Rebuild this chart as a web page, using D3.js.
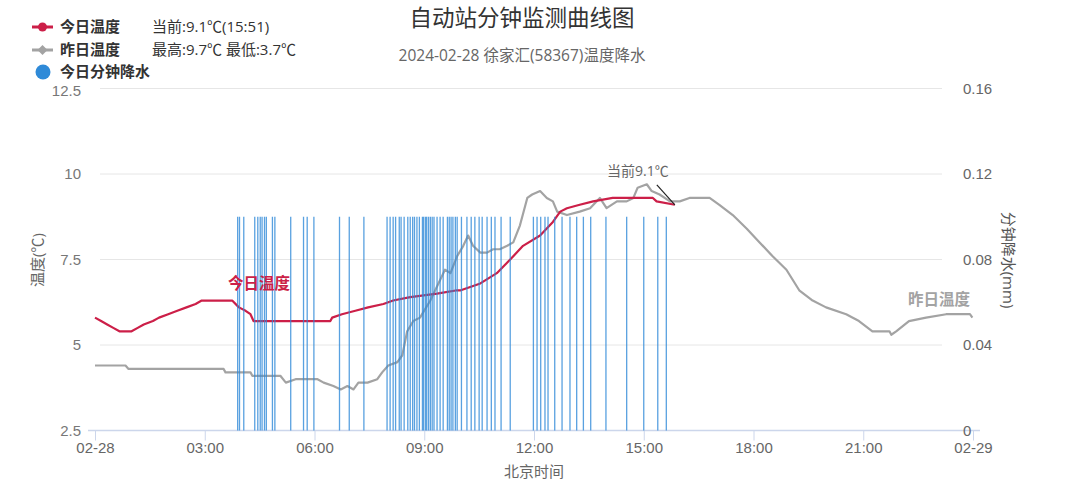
<!DOCTYPE html>
<html>
<head>
<meta charset="utf-8">
<script src="https://cdn.jsdelivr.net/npm/d3@7"></script>
<style>
  body { margin: 0; background: #fff; }
  svg { font-family: "Open Sans", "Noto Sans CJK SC", "Noto Sans", sans-serif; }
</style>
</head>
<body>
<svg id="chart" width="1080" height="500"></svg>
<script>
// today's temperature (1-min data, read at the turning points)
var todayTimes = ["00:00", "00:10", "00:20", "00:30", "00:40", "01:00", "01:10", "01:20",
  "01:35", "01:45", "02:00", "02:15", "02:30", "02:45", "02:55", "03:45", "03:56", "04:07",
  "04:15", "04:20", "06:26", "06:29", "06:45", "07:07", "07:28", "07:53", "08:09", "08:37",
  "09:21", "09:54", "10:00", "10:32", "10:59", "11:21", "11:42", "12:10", "12:31", "12:43",
  "12:54", "13:15", "13:37", "14:09", "15:15", "15:21", "15:51"];
var todayTemps = [5.8, 5.7, 5.6, 5.5, 5.4, 5.4, 5.5, 5.6,
  5.7, 5.8, 5.9, 6.0, 6.1, 6.2, 6.3, 6.3, 6.1, 6.0,
  5.9, 5.7, 5.7, 5.8, 5.9, 6.0, 6.1, 6.2, 6.3, 6.4,
  6.5, 6.6, 6.6, 6.8, 7.1, 7.5, 7.9, 8.2, 8.6, 8.9,
  9.0, 9.1, 9.2, 9.3, 9.3, 9.2, 9.1];

// yesterday's temperature
var yesterdayTimes = ["00:00", "00:50", "00:55", "03:31", "03:34", "04:15", "04:18", "05:04",
  "05:13", "05:29", "06:05", "06:15", "06:31", "06:43", "06:54", "07:04", "07:12", "07:27",
  "07:43", "07:51", "08:01", "08:16", "08:24", "08:32", "08:42", "08:53", "09:10", "09:26",
  "09:34", "09:43", "09:54", "10:04", "10:12", "10:20", "10:32", "10:43", "10:53", "11:04",
  "11:16", "11:26", "11:37", "11:49", "11:57", "12:10", "12:21", "12:31", "12:38", "12:54",
  "13:15", "13:32", "13:48", "13:59", "14:16", "14:32", "14:43", "14:50", "15:05", "15:13",
  "15:26", "15:43", "15:59", "16:15", "16:48", "17:04", "17:26", "17:49", "18:10", "18:31",
  "18:54", "19:15", "19:37", "19:59", "20:32", "20:53", "21:15", "21:43", "21:46", "21:54",
  "22:15", "22:43", "23:16", "23:55", "23:59"];
var yesterdayTemps = [4.4, 4.4, 4.3, 4.3, 4.2, 4.2, 4.1, 4.1,
  3.9, 4.0, 4.0, 3.9, 3.8, 3.7, 3.8, 3.7, 3.9, 3.9,
  4.0, 4.2, 4.4, 4.5, 4.7, 5.4, 5.7, 5.8, 6.3, 6.9,
  7.2, 7.1, 7.6, 7.9, 8.2, 7.9, 7.7, 7.7, 7.8, 7.8,
  7.9, 8.0, 8.5, 9.3, 9.4, 9.5, 9.3, 9.2, 8.9, 8.8,
  8.9, 9.0, 9.3, 9.0, 9.2, 9.2, 9.3, 9.6, 9.7, 9.5,
  9.4, 9.2, 9.2, 9.3, 9.3, 9.1, 8.8, 8.4, 8.0, 7.6,
  7.2, 6.6, 6.3, 6.1, 5.9, 5.7, 5.4, 5.4, 5.3, 5.4,
  5.7, 5.8, 5.9, 5.9, 5.8];

// minutes with rain today (each one tip of the gauge)
var rainTimes = ["03:54", "03:57", "04:04", "04:22", "04:27", "04:31", "04:34", "04:38",
  "04:41", "04:51", "04:55", "05:21", "05:42", "05:48", "05:59", "06:41", "06:57", "07:21",
  "07:59", "08:04", "08:09", "08:13", "08:19", "08:22", "08:27", "08:33", "08:37", "08:41",
  "08:44", "08:48", "08:52", "08:57", "08:59", "09:02", "09:04", "09:07", "09:10", "09:13",
  "09:16", "09:21", "09:26", "09:31", "09:38", "09:41", "09:44", "09:47", "09:51", "09:54",
  "10:01", "10:10", "10:17", "10:23", "10:30", "10:35", "10:43", "10:50", "10:56", "11:06",
  "11:21", "11:59", "12:05", "12:11", "12:18", "12:23", "12:34", "12:46", "12:59", "13:10",
  "13:21", "13:33", "13:58", "14:32", "15:00", "15:23", "15:37"];
var rainValues = rainTimes.map(function() { return 0.1; });

var tempTicks = [2.5, 5, 7.5, 10, 12.5];
var rainTicks = [0, 0.04, 0.08, 0.12, 0.16];

var svg = d3.select("#chart");
var day = "2024-02-28 ";
var parse = d3.timeParse("%Y-%m-%d %H:%M");

var x = d3.scaleTime()
  .domain([parse(day + "00:00"), parse("2024-02-29 00:00")])
  .range([95, 973]);
var yT = d3.scaleLinear().domain([2.5, 12.5]).range([430.5, 88.5]);
var yR = d3.scaleLinear().domain([0, 0.16]).range([430.5, 88.5]);

function pairs(times, vals) {
  return times.map(function(t, i) { return { t: parse(day + t), v: vals[i] }; });
}
var today = pairs(todayTimes, todayTemps);
var yesterday = pairs(yesterdayTimes, yesterdayTemps);
var rain = pairs(rainTimes, rainValues);

// grid lines
svg.append("g").selectAll("line")
  .data(tempTicks.slice(1))
  .enter().append("line")
  .attr("x1", 100).attr("x2", 942)
  .attr("y1", function(d) { return yT(d); })
  .attr("y2", function(d) { return yT(d); })
  .attr("stroke", "#e6e6e6").attr("stroke-width", 1);

// x axis
var fmt = function(d) {
  return d.getHours() === 0 ? d3.timeFormat("%m-%d")(d) : d3.timeFormat("%H:%M")(d);
};
var xAxis = svg.append("g")
  .attr("transform", "translate(0," + yT(2.5) + ")")
  .call(d3.axisBottom(x).ticks(d3.timeHour.every(3)).tickFormat(fmt)
    .tickSize(10).tickSizeOuter(0).tickPadding(2));
xAxis.select(".domain").attr("d", "M88,0H980").attr("stroke", "#ccd6eb").attr("stroke-width", 1.5);
xAxis.selectAll(".tick line").attr("stroke", "#ccd6eb");
xAxis.selectAll("text").attr("font-size", 15).attr("fill", "#666");

// left axis
var yAxis = svg.append("g")
  .attr("transform", "translate(84,0)")
  .call(d3.axisLeft(yT).tickValues(tempTicks).tickSize(0).tickFormat(d3.format("")));
yAxis.select(".domain").remove();
yAxis.selectAll("text").attr("font-size", 15).attr("fill", "#777");
yAxis.selectAll("text").filter(function(d) { return d === 12.5; }).attr("dy", "0.45em");

// right axis
var rAxis = svg.append("g")
  .attr("transform", "translate(960,0)")
  .call(d3.axisRight(yR).tickValues(rainTicks).tickSize(0).tickFormat(d3.format("")));
rAxis.select(".domain").remove();
rAxis.selectAll("text").attr("font-size", 15).attr("fill", "#666");

// lines
var line = d3.line()
  .x(function(d) { return x(d.t); })
  .y(function(d) { return yT(d.v); });

svg.append("path").datum(yesterday)
  .attr("d", line).attr("fill", "none")
  .attr("stroke", "#a3a3a3").attr("stroke-width", 2.2).attr("stroke-linejoin", "round");

svg.append("path").datum(today)
  .attr("d", line).attr("fill", "none")
  .attr("stroke", "#cc1f48").attr("stroke-width", 2.2).attr("stroke-linejoin", "round");

// rain bars on top
svg.append("g").selectAll("rect")
  .data(rain)
  .enter().append("rect")
  .attr("x", function(d) { return x(d.t) - 0.65; })
  .attr("width", 1.3)
  .attr("y", function(d) { return yR(d.v); })
  .attr("height", function(d) { return yR(0) - yR(d.v); })
  .attr("fill", "#2f8ad8").attr("opacity", 0.8);

// current value marker
var last = today[today.length - 1];
svg.append("line")
  .attr("x1", x(last.t) - 18).attr("y1", yT(last.v) - 20)
  .attr("x2", x(last.t)).attr("y2", yT(last.v))
  .attr("stroke", "#222").attr("stroke-width", 1.2);
svg.append("text")
  .attr("x", x(last.t) - 37).attr("y", yT(last.v) - 29)
  .attr("text-anchor", "middle").attr("font-size", 14).attr("fill", "#666")
  .text("当前" + last.v + "℃");

// series labels in the plot
svg.append("text").attr("x", 228).attr("y", 289)
  .attr("font-size", 15.5).attr("font-weight", "bold").attr("fill", "#cc1f48").text("今日温度");
svg.append("text").attr("x", 908).attr("y", 305)
  .attr("font-size", 15.5).attr("font-weight", "bold").attr("fill", "#a3a3a3").text("昨日温度");

// titles
svg.append("text").attr("x", 522).attr("y", 26).attr("text-anchor", "middle")
  .attr("font-size", 22.5).attr("fill", "#333").text("自动站分钟监测曲线图");
svg.append("text").attr("x", 522).attr("y", 61).attr("text-anchor", "middle")
  .attr("font-size", 15.5).attr("fill", "#666").text("2024-02-28 徐家汇(58367)温度降水");

// axis titles
svg.append("text").attr("transform", "translate(43,260) rotate(-90)")
  .attr("text-anchor", "middle").attr("font-size", 15).attr("fill", "#666").text("温度(℃)");
svg.append("text").attr("transform", "translate(1003,260) rotate(90)")
  .attr("text-anchor", "middle").attr("font-size", 15).attr("fill", "#555").text("分钟降水(mm)");
svg.append("text").attr("x", 534).attr("y", 477).attr("text-anchor", "middle")
  .attr("font-size", 15).attr("fill", "#666").text("北京时间");

// legend
var legend = svg.append("g");
legend.append("line").attr("x1", 32).attr("x2", 53).attr("y1", 27).attr("y2", 27)
  .attr("stroke", "#cc1f48").attr("stroke-width", 3);
legend.append("circle").attr("cx", 42.5).attr("cy", 27).attr("r", 4.5).attr("fill", "#cc1f48");
legend.append("line").attr("x1", 32).attr("x2", 53).attr("y1", 50).attr("y2", 50)
  .attr("stroke", "#a3a3a3").attr("stroke-width", 3);
legend.append("path").attr("d", "M42.5,45L47.5,50L42.5,55L37.5,50Z").attr("fill", "#a3a3a3");
legend.append("circle").attr("cx", 43).attr("cy", 72).attr("r", 7.5).attr("fill", "#2f8ad8");

var legendRows = [
  { y: 27, name: "今日温度", note: "当前:9.1℃(15:51)" },
  { y: 50, name: "昨日温度", note: "最高:9.7℃ 最低:3.7℃" },
  { y: 72, name: "今日分钟降水", note: "" }
];
legendRows.forEach(function(r) {
  legend.append("text").attr("x", 60).attr("y", r.y).attr("dy", "0.36em")
    .attr("font-size", 15).attr("font-weight", "bold").attr("fill", "#333").text(r.name);
  if (r.note) {
    legend.append("text").attr("x", 152).attr("y", r.y).attr("dy", "0.36em")
      .attr("font-size", 15).attr("fill", "#333").text(r.note);
  }
});
</script>
</body>
</html>
